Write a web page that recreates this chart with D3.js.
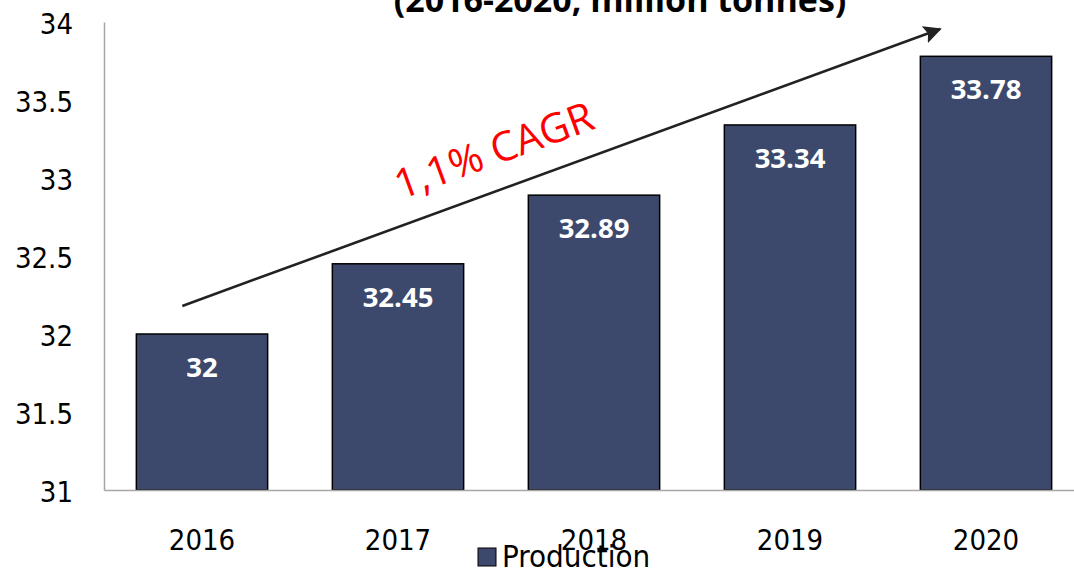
<!DOCTYPE html>
<html>
<head>
<meta charset="utf-8">
<script src="https://cdn.jsdelivr.net/npm/d3@7"></script>
<style>
  body { margin: 0; background: #fff; }
  svg { display: block; }
  .tick-font { font-family: "DejaVu Sans Condensed", "DejaVu Sans", sans-serif; font-stretch: condensed; }
</style>
</head>
<body>
<div id="chart"></div>
<script>
// chart data
const years = ["2016", "2017", "2018", "2019", "2020"];
const production = [32, 32.45, 32.89, 33.34, 33.78];
const yTicks = [31, 31.5, 32, 32.5, 33, 33.5, 34];
const titleText = "(2016-2020, million tonnes)";
const cagrText = "1,1% CAGR";
const seriesName = "Production";

// arrow end points, in data units (year + fraction of bar, value)
const arrowFrom = {year: "2016", frac: 0.35, value: 32.18};
const arrowTo = {year: "2020", frac: 0.15, value: 33.955};
const cagrAt = {year: "2017", frac: 0.52, value: 32.86};

const width = 1074, height = 571;
const barColor = "#3c496c";

const svg = d3.select("#chart").append("svg")
  .attr("width", width)
  .attr("height", height);

/**
 * Scales
 */
const x = d3.scaleBand()
  .domain(years)
  .range([104, 1084])
  .paddingInner(0.33)
  .paddingOuter(0.165);

const y = d3.scaleLinear()
  .domain([31, 34])
  .range([490, 22]);

// Title (cut off at the top, as in the source)
svg.append("text")
  .attr("x", 620)
  .attr("y", 12)
  .attr("text-anchor", "middle")
  .style("font-family", "'Open Sans', sans-serif")
  .style("font-weight", "bold")
  .style("font-size", "34px")
  .style("fill", "#000")
  .text(titleText);

// y axis
const yAxis = svg.append("g")
  .attr("transform", "translate(104,0)")
  .call(d3.axisLeft(y).tickValues(yTicks).tickSize(0).tickPadding(31)
    .tickFormat(d => d3.format("")(d)));
yAxis.select(".domain").attr("stroke", "#a6a6a6").attr("stroke-width", 1.5);
yAxis.selectAll("text")
  .attr("class", "tick-font")
  .attr("dy", "0.4em")
  .style("font-size", "29px")
  .style("fill", "#000");

// bars
svg.selectAll("rect.bar")
  .data(production)
  .enter()
  .append("rect")
    .attr("class", "bar")
    .attr("x", (d, i) => x(years[i]))
    .attr("y", d => y(d))
    .attr("width", x.bandwidth())
    .attr("height", d => y(31) - y(d))
    .style("fill", barColor)
    .style("stroke", "#000")
    .style("stroke-width", 1.5);

// x axis
const xAxis = svg.append("g")
  .attr("transform", "translate(0,490)")
  .call(d3.axisBottom(x).tickSize(0).tickPadding(39).tickSizeOuter(0));
xAxis.select(".domain").attr("stroke", "#a6a6a6").attr("stroke-width", 1.5);
xAxis.selectAll("text")
  .attr("class", "tick-font")
  .style("font-size", "29px")
  .style("fill", "#000");

// value labels
svg.selectAll("text.value")
  .data(production)
  .enter()
  .append("text")
    .attr("class", "value")
    .attr("x", (d, i) => x(years[i]) + x.bandwidth() / 2)
    .attr("y", d => y(d) + 43)
    .attr("text-anchor", "middle")
    .style("font-family", "'Open Sans', sans-serif")
    .style("font-weight", "bold")
    .style("font-size", "27.5px")
    .style("fill", "#fff")
    .text(d => d);

// CAGR arrow
svg.append("defs").append("marker")
  .attr("id", "head")
  .attr("viewBox", "0 0 10 10")
  .attr("refX", 9)
  .attr("refY", 5)
  .attr("markerWidth", 7)
  .attr("markerHeight", 7)
  .attr("markerUnits", "strokeWidth")
  .attr("orient", "auto")
  .append("path")
    .attr("d", "M0,0 L10,5 L0,10 L2,5 Z")
    .style("fill", "#222");

const ax = p => x(p.year) + p.frac * x.bandwidth();
const x1 = ax(arrowFrom), y1 = y(arrowFrom.value);
const x2 = ax(arrowTo), y2 = y(arrowTo.value);

svg.append("line")
  .attr("x1", x1).attr("y1", y1)
  .attr("x2", x2).attr("y2", y2)
  .style("stroke", "#222")
  .style("stroke-width", 2.6)
  .attr("marker-end", "url(#head)");

const angle = Math.atan2(y2 - y1, x2 - x1) * 180 / Math.PI;
svg.append("text")
  .attr("transform", `translate(${ax(cagrAt)},${y(cagrAt.value)}) rotate(${angle})`)
  .style("font-family", "'Open Sans', sans-serif")
  .style("font-size", "41px")
  .style("fill", "#ff0000")
  .text(cagrText);

// legend
const legend = svg.append("g").attr("transform", "translate(478,548)");
legend.append("rect")
  .attr("width", 18)
  .attr("height", 18)
  .style("fill", barColor)
  .style("stroke", "#000")
  .style("stroke-width", 1);
legend.append("text")
  .attr("class", "tick-font")
  .attr("x", 24)
  .attr("y", 19)
  .style("font-size", "31px")
  .style("fill", "#000")
  .text(seriesName);
</script>
</body>
</html>
